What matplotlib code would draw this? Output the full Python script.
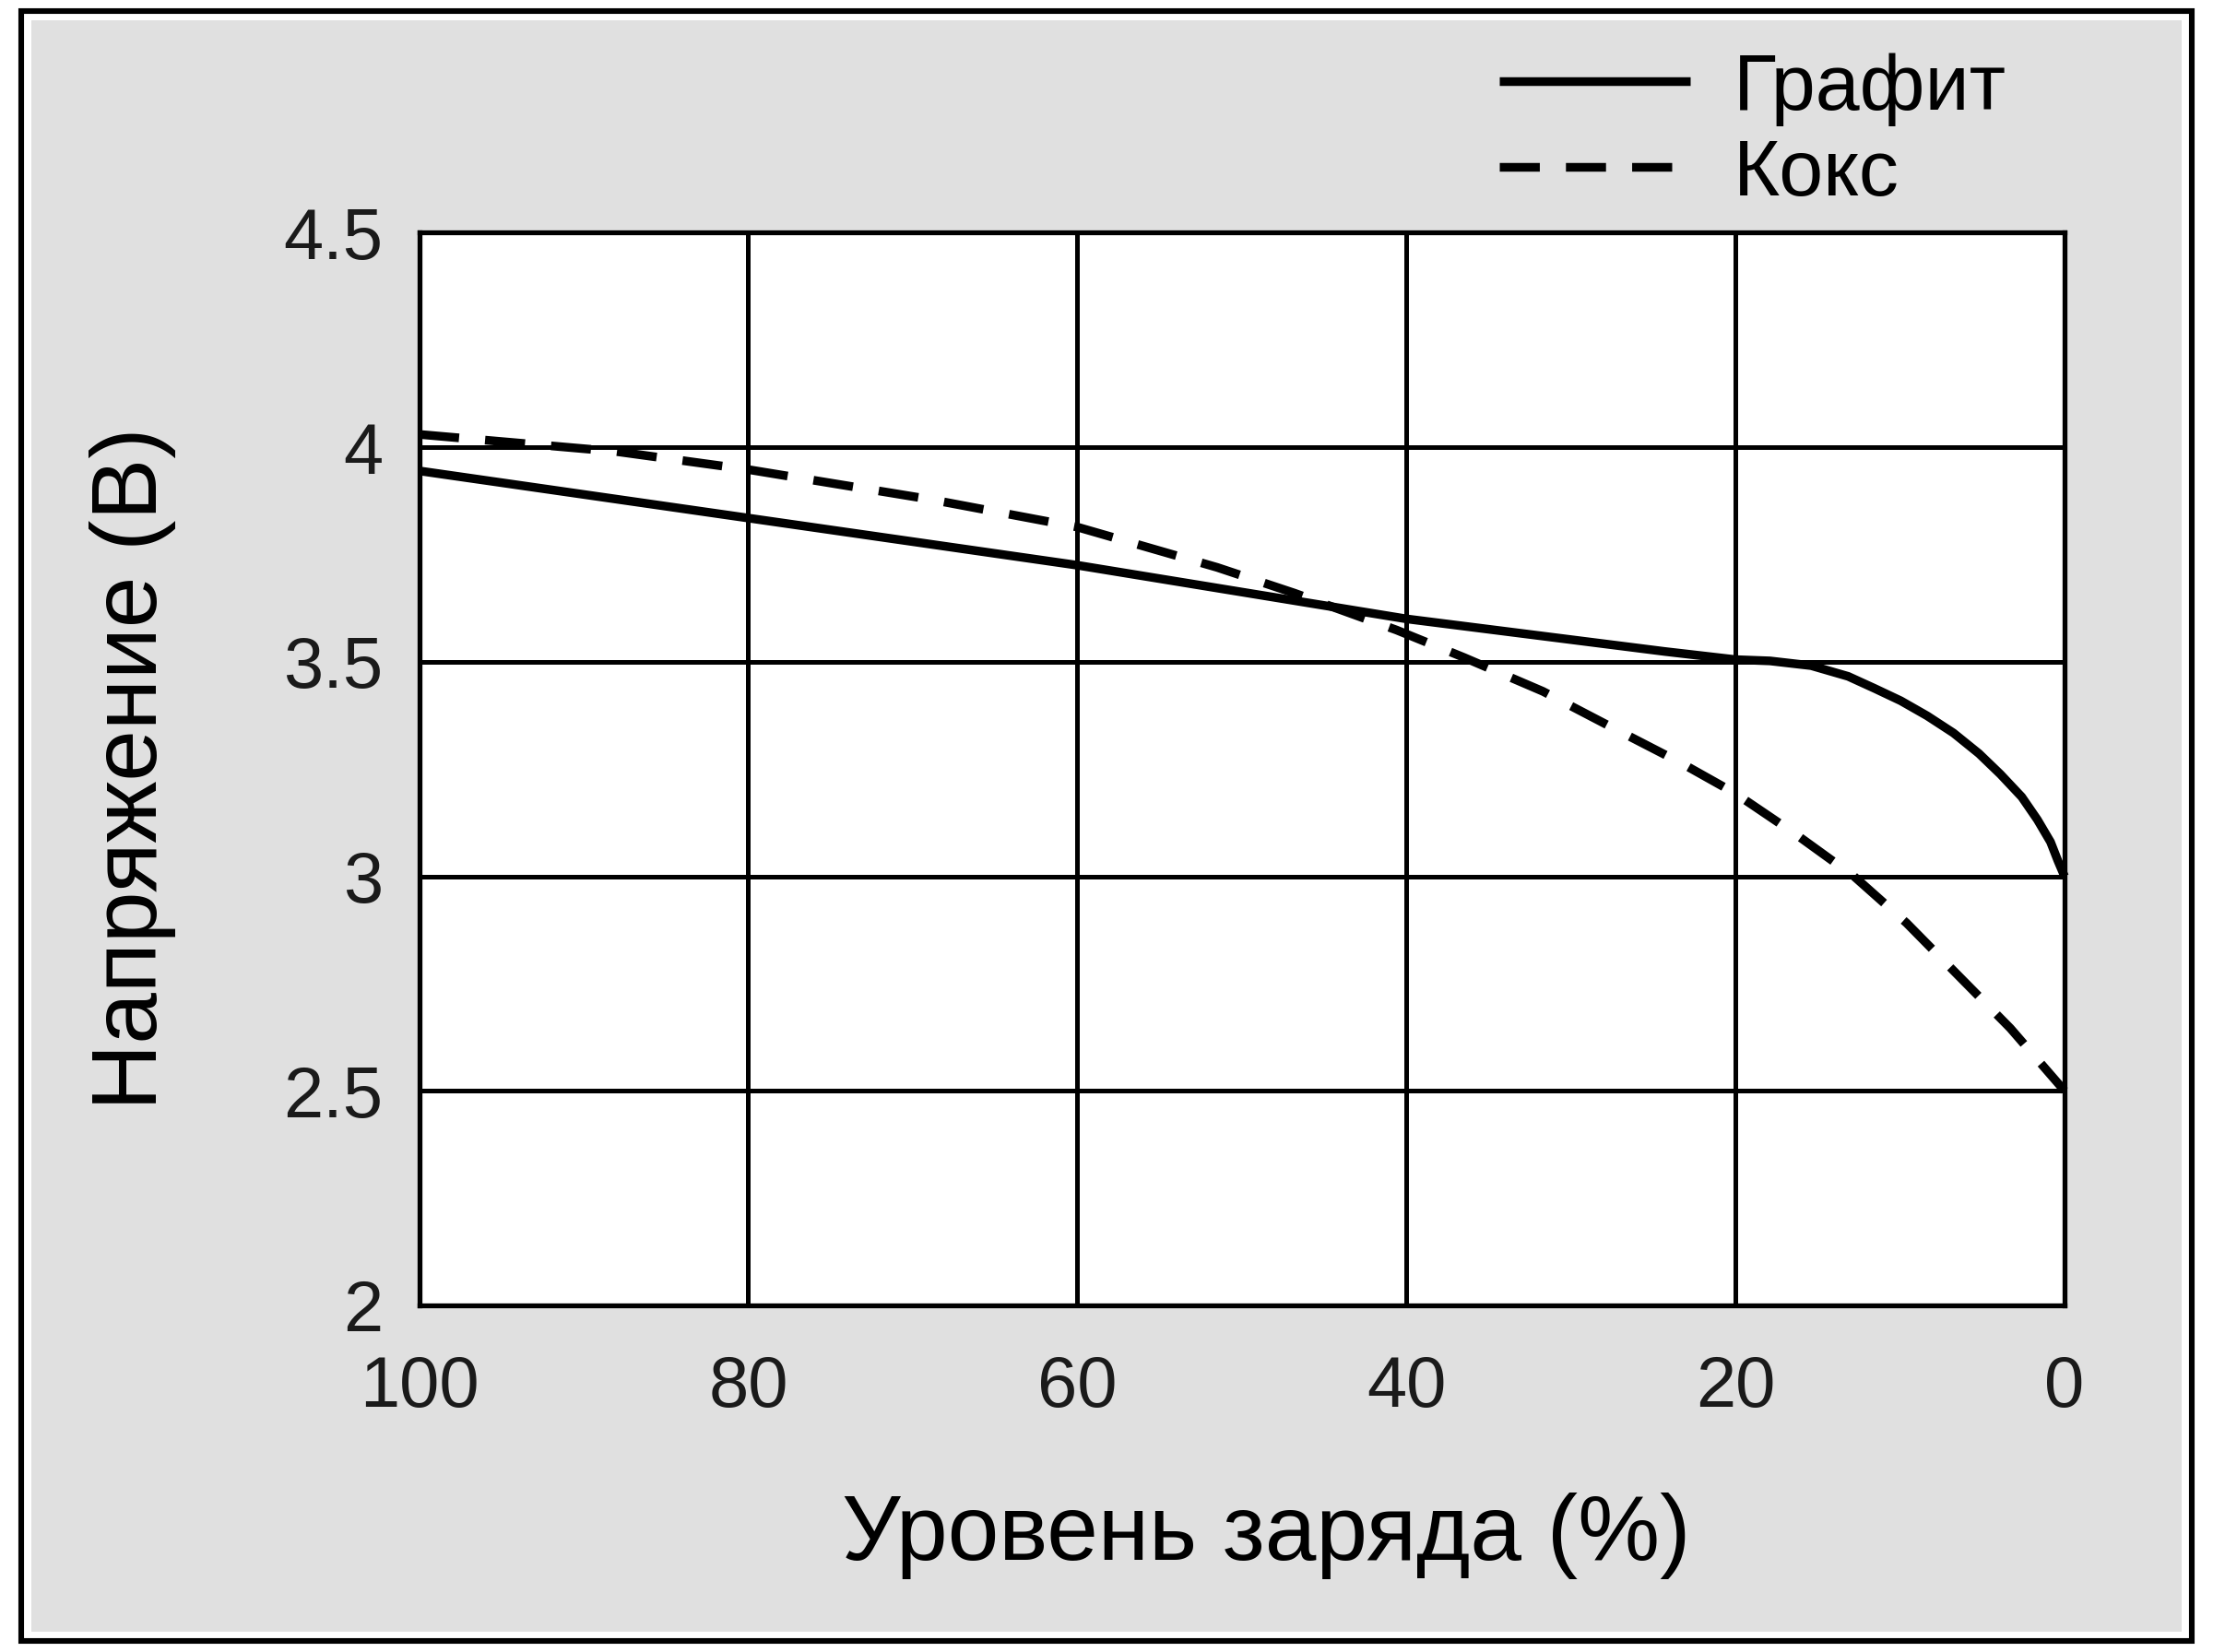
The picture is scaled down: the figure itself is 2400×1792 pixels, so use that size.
import matplotlib
matplotlib.use("Agg")
import matplotlib.pyplot as plt
from matplotlib.patches import Rectangle

plt.rcParams['font.family'] = ['Liberation Sans', 'DejaVu Sans']

# data (state of charge, %  ->  voltage, V)
soc_graphite = [100, 80, 60, 40, 24.3, 20, 17.9, 15.4, 13.15, 11.55, 9.95, 8.35,
                6.75, 5.2, 3.9, 2.6, 1.65, 0.85, 0.4, 0]
v_graphite = [3.945, 3.835, 3.725, 3.60, 3.524, 3.505, 3.502, 3.491, 3.466, 3.438,
              3.409, 3.374, 3.334, 3.286, 3.238, 3.185, 3.132, 3.08, 3.036, 3.0]

soc_coke = [100, 88, 80, 69, 60, 51.5, 46.8, 40.6, 36.5, 31.7, 27.5, 23.3, 20,
            16.3, 12.8, 9.6, 6.8, 3.3, 0]
v_coke = [4.03, 3.99, 3.948, 3.879, 3.814, 3.72, 3.66, 3.574, 3.51, 3.431, 3.347,
          3.264, 3.193, 3.097, 3.0, 2.891, 2.782, 2.646, 2.5]

x_ticks = [100, 80, 60, 40, 20, 0]
y_ticks = [2, 2.5, 3, 3.5, 4, 4.5]
y_tick_labels = ['2', '2.5', '3', '3.5', '4', '4.5']

fig = plt.figure(figsize=(12, 8.96), dpi=200, facecolor='white')

# outer frame: black line, thin white gap, grey panel
fig.add_artist(Rectangle((0.0096, 0.0067), 0.9808, 0.9866, transform=fig.transFigure,
                         facecolor='white', edgecolor='black', lw=2.2, zorder=-10))
fig.add_artist(Rectangle((0.0140, 0.0125), 0.9720, 0.9750, transform=fig.transFigure,
                         facecolor='#e0e0e0', edgecolor='none', zorder=-9))

ax = fig.add_axes([0.1894, 0.2099, 0.7435, 0.6492], facecolor='white')

ax.plot(soc_graphite, v_graphite, color='black', lw=3.4, label='Графит',
        solid_capstyle='butt', solid_joinstyle='round', clip_on=False, zorder=3)
ax.plot(soc_coke, v_coke, color='black', lw=3.4, label='Кокс',
        dashes=(4.6, 3), dash_capstyle='butt', clip_on=False, zorder=3)

ax.set_xlim(100, 0)
ax.set_ylim(2, 4.5)
ax.set_xticks(x_ticks)
ax.set_yticks(y_ticks)
ax.set_yticklabels(y_tick_labels)
ax.tick_params(axis='both', length=0, labelsize=28, colors='#1a1a1a')
ax.tick_params(axis='x', pad=19)
ax.tick_params(axis='y', pad=14)

ax.grid(True, color='black', lw=1.8)
ax.set_axisbelow(True)
for spine in ax.spines.values():
    spine.set_linewidth(1.9)

ax.set_xlabel('Уровень заряда (%)', fontsize=36, labelpad=28)
ax.xaxis.label.set_x(0.515)
ax.set_ylabel('Напряжение (В)', fontsize=36, labelpad=42)

leg = ax.legend(loc='upper left', bbox_to_anchor=(0.613, 1.235), frameon=False,
                fontsize=31, handlelength=2.4, handletextpad=0.55,
                labelspacing=0.15)

fig.savefig('out.png', dpi=200, facecolor=fig.get_facecolor())
